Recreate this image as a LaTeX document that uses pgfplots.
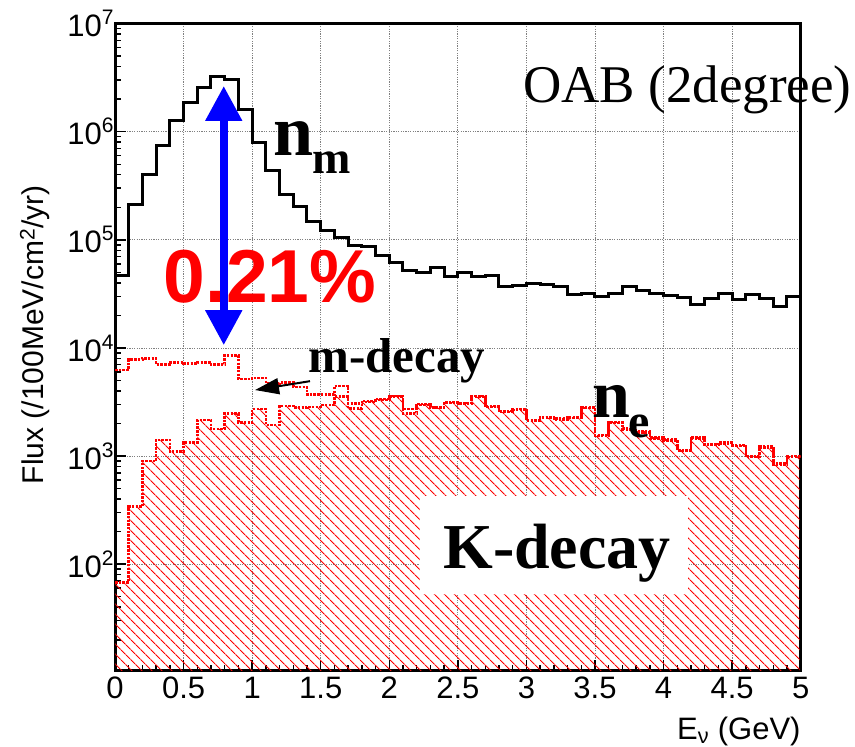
\documentclass[border=0pt]{standalone}
\usepackage{pgfplots}
\pgfplotsset{compat=1.18}
\usepackage{pgfplotstable}
\usepackage{fontspec}
\setmainfont{Liberation Serif}
\setsansfont{Liberation Sans}
\usetikzlibrary{arrows.meta,patterns.meta}

\pgfplotstableread{
x numu nue k
0.0 47000 6250 68
0.1 210000 7800 340
0.2 400000 8000 900
0.3 740000 7050 1410
0.4 1260000 7360 1100
0.5 1870000 7200 1340
0.6 2580000 7360 2150
0.7 3230000 7050 1780
0.8 3070000 8500 2480
0.9 1620000 5150 2050
1.0 800000 5300 2720
1.1 435000 4700 1940
1.2 264000 4770 2900
1.3 202000 4370 2800
1.4 148000 3720 2850
1.5 123000 3720 2960
1.6 105000 4450 3540
1.7 88000 3070 2760
1.8 86000 3230 3180
1.9 72000 3370 3300
2.0 62000 3610 3550
2.1 52000 2720 2480
2.2 50000 3030 2960
2.3 56000 2820 2800
2.4 46000 3180 3100
2.5 50000 3110 3050
2.6 46000 3610 3550
2.7 47000 2900 2850
2.8 36800 2600 2550
2.9 38200 2720 2680
3.0 39600 2150 2110
3.1 38700 2310 2270
3.2 36800 2230 2190
3.3 31100 2280 2240
3.4 32000 2820 2780
3.5 30200 1560 1530
3.6 32000 2070 2030
3.7 36800 1800 1770
3.8 33800 1680 1650
3.9 31600 1490 1460
4.0 30700 1430 1400
4.1 29200 1130 1110
4.2 25000 1480 1450
4.3 28800 1280 1260
4.4 32000 1340 1310
4.5 28200 1260 1240
4.6 31300 1000 980
4.7 28800 1220 1200
4.8 24000 855 840
4.9 30200 1000 980
5.0 30200 1000 980
}\flux

\begin{document}
\begin{tikzpicture}
\useasboundingbox (0,0) rectangle (855pt,747pt);
\begin{axis}[
  at={(115pt,76.3pt)}, anchor=south west,
  scale only axis, width=685.7pt, height=647.1pt,
  xmin=0, xmax=5, ymin=10.35, ymax=1e7,
  ymode=log, log basis y=10,
  clip mode=individual,
  axis line style={line width=3pt},
  tick pos=left, tick align=inside,
  major tick length=11pt, minor tick length=6pt,
  tick style={line width=1.5pt, black},
  xtick={0,0.5,...,5}, minor x tick num=4,
  xticklabels={0,0.5,1,1.5,2,2.5,3,3.5,4,4.5,5},
  yticklabel={10\raisebox{12pt}{\fontsize{21}{21}\selectfont\pgfmathparse{int(round(\tick))}\pgfmathresult}},
  ticklabel style={font=\sffamily\fontsize{31}{36}\selectfont},
  xticklabel style={yshift=-3pt},
  yticklabel style={xshift=2pt},
  grid=major,
  major grid style={dash pattern=on 1.2pt off 1.2pt, gray, line width=0.8pt},
  ylabel={Flux (/100MeV/cm\textsuperscript{2}/yr)},
  ylabel style={at={(axis description cs:-0.1167,0.519)}, anchor=center, font=\sffamily\fontsize{30}{36}\selectfont},
  xlabel={E\textsubscript{ν} (GeV)},
  xlabel style={at={(axis description cs:1,-0.107)}, anchor=base east, inner sep=0pt, font=\sffamily\fontsize{31}{36}\selectfont},
]
% K-decay hatched fill
\addplot[const plot, draw=none, pattern={Lines[angle=-45,distance=7.4pt,line width=1.2pt]}, pattern color=red] table[x=x,y=k] {\flux} \closedcycle;
% outlines
\addplot[const plot, red, line width=2.5pt, dash pattern=on 2.5pt off 1.2pt] table[x=x,y=k] {\flux};
\addplot[const plot, red, line width=2.5pt, dash pattern=on 2.5pt off 1.2pt] table[x=x,y=nue] {\flux};
\addplot[const plot, black, line width=3pt] table[x=x,y=numu] {\flux};

% white box for K-decay label
\fill[white] (axis cs:2.225,52.8) rectangle (axis cs:4.18,426.6);
\node[anchor=base west, inner sep=0pt, font=\bfseries\fontsize{64}{64}\selectfont] at (axis cs:2.392,92) {K-decay};

\node[anchor=base west, inner sep=0pt, font=\fontsize{53}{53}\selectfont] at (axis cs:2.976,1.88e6) {OAB (2degree)};

\node[anchor=base, inner sep=0pt, text=red, font=\sffamily\bfseries\fontsize{75}{75}\selectfont] at (axis cs:1.13,2.66e4) {0.21\%};
\draw[blue, line width=8pt, {Triangle[width=35pt,length=35pt]}-{Triangle[width=35pt,length=35pt]}] (axis cs:0.793,1.06e4) -- (axis cs:0.793,2.65e6);

\node[anchor=base west, inner sep=0pt, font=\bfseries\fontsize{72}{72}\selectfont] at (axis cs:1.152,6.08e5) {n};
\node[anchor=base west, inner sep=0pt, font=\bfseries\fontsize{46}{46}\selectfont] at (axis cs:1.437,4.14e5) {m};

\node[anchor=base west, inner sep=0pt, font=\bfseries\fontsize{68}{68}\selectfont] at (axis cs:3.479,2.25e3) {n};
\node[anchor=base west, inner sep=0pt, font=\bfseries\fontsize{48}{48}\selectfont] at (axis cs:3.742,1.47e3) {e};

\node[anchor=base west, inner sep=0pt, font=\bfseries\fontsize{49}{49}\selectfont] at (axis cs:1.408,5.98e3) {m-decay};
\draw[black, line width=2pt, -{Triangle[width=16pt,length=24pt]}] (axis cs:1.422,4.93e3) -- (axis cs:1.021,4.08e3);
\end{axis}
\end{tikzpicture}
\end{document}
